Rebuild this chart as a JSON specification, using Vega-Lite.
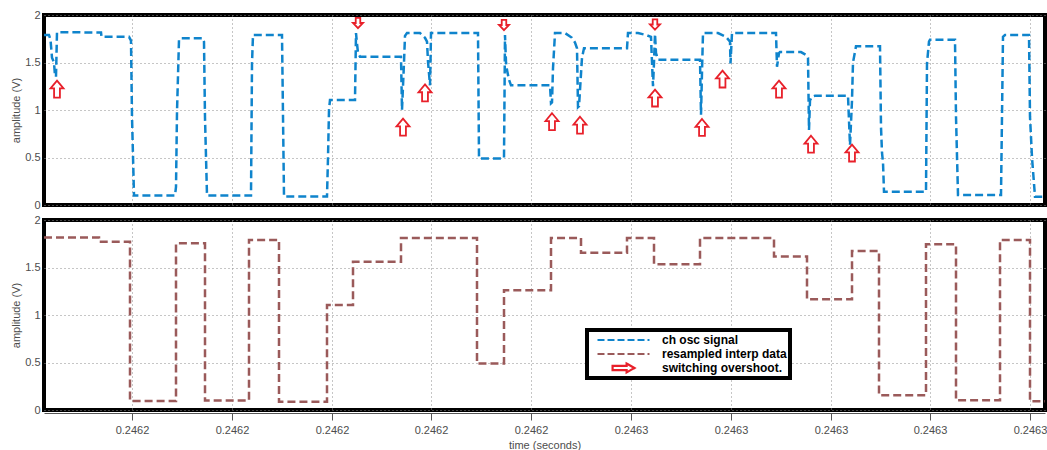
{
  "$schema": "https://vega.github.io/schema/vega-lite/v6.json",
  "background": "white",
  "padding": {"left": 8, "top": 7, "right": 0, "bottom": 0},
  "spacing": 0,
  "config": {
    "font": "Liberation Sans",
    "view": {"stroke": "black", "strokeWidth": 4},
    "axis": {
      "labelFont": "Liberation Sans", "labelFontSize": 11, "labelColor": "#4d4d4d",
      "titleFont": "Liberation Sans", "titleFontSize": 11, "titleFontWeight": "normal", "titleColor": "#4d4d4d",
      "gridColor": "#8c8c8c", "gridDash": [1, 3], "gridOpacity": 1, "gridWidth": 1
    }
  },
  "datasets": {
    "osc": [
      {"t": 0.2461962, "v": 1.79}, {"t": 0.2461967, "v": 1.79}, {"t": 0.24619685, "v": 1.74}, {"t": 0.246197, "v": 1.55},
      {"t": 0.2461972, "v": 1.5}, {"t": 0.2461973, "v": 1.36}, {"t": 0.2461974, "v": 1.35}, {"t": 0.2461975, "v": 1.82},
      {"t": 0.2462019, "v": 1.815}, {"t": 0.24620195, "v": 1.77}, {"t": 0.2462047, "v": 1.77}, {"t": 0.2462049, "v": 1.73},
      {"t": 0.246205, "v": 0.93}, {"t": 0.2462052, "v": 0.1}, {"t": 0.2462093, "v": 0.1}, {"t": 0.2462094, "v": 0.19},
      {"t": 0.2462095, "v": 0.98}, {"t": 0.2462097, "v": 1.74}, {"t": 0.2462098, "v": 1.755}, {"t": 0.2462121, "v": 1.755},
      {"t": 0.2462122, "v": 1.72}, {"t": 0.2462123, "v": 0.92}, {"t": 0.2462125, "v": 0.1}, {"t": 0.2462169, "v": 0.1},
      {"t": 0.246217, "v": 1.49}, {"t": 0.2462171, "v": 1.79}, {"t": 0.24622, "v": 1.79}, {"t": 0.2462201, "v": 0.94},
      {"t": 0.2462202, "v": 0.09}, {"t": 0.2462245, "v": 0.09}, {"t": 0.2462246, "v": 0.5}, {"t": 0.2462247, "v": 1.0},
      {"t": 0.2462248, "v": 1.105}, {"t": 0.2462273, "v": 1.105}, {"t": 0.2462274, "v": 1.81}, {"t": 0.2462275, "v": 1.7},
      {"t": 0.2462276, "v": 1.6}, {"t": 0.2462278, "v": 1.56}, {"t": 0.2462319, "v": 1.56}, {"t": 0.246232, "v": 1.0},
      {"t": 0.2462322, "v": 1.5}, {"t": 0.2462323, "v": 1.78}, {"t": 0.2462325, "v": 1.81}, {"t": 0.2462338, "v": 1.81},
      {"t": 0.2462343, "v": 1.76}, {"t": 0.2462345, "v": 1.72}, {"t": 0.2462346, "v": 1.51}, {"t": 0.2462348, "v": 1.26},
      {"t": 0.24623485, "v": 1.5}, {"t": 0.2462349, "v": 1.81}, {"t": 0.2462396, "v": 1.81}, {"t": 0.2462397, "v": 0.49},
      {"t": 0.2462422, "v": 0.49}, {"t": 0.2462423, "v": 1.79}, {"t": 0.2462424, "v": 1.5}, {"t": 0.2462425, "v": 1.42},
      {"t": 0.2462427, "v": 1.32}, {"t": 0.2462429, "v": 1.26}, {"t": 0.2462468, "v": 1.26}, {"t": 0.2462469, "v": 1.07},
      {"t": 0.246247, "v": 1.08}, {"t": 0.2462471, "v": 1.44}, {"t": 0.2462473, "v": 1.81}, {"t": 0.2462483, "v": 1.81},
      {"t": 0.246249, "v": 1.76}, {"t": 0.2462493, "v": 1.71}, {"t": 0.2462495, "v": 1.65}, {"t": 0.2462496, "v": 1.03},
      {"t": 0.2462497, "v": 1.04}, {"t": 0.24625, "v": 1.55}, {"t": 0.2462502, "v": 1.65}, {"t": 0.2462545, "v": 1.65},
      {"t": 0.2462546, "v": 1.81}, {"t": 0.2462556, "v": 1.81}, {"t": 0.2462564, "v": 1.79}, {"t": 0.2462569, "v": 1.77},
      {"t": 0.246257, "v": 1.5}, {"t": 0.2462571, "v": 1.25}, {"t": 0.2462572, "v": 1.5}, {"t": 0.2462573, "v": 1.8},
      {"t": 0.2462574, "v": 1.6}, {"t": 0.2462576, "v": 1.53}, {"t": 0.2462618, "v": 1.53}, {"t": 0.2462619, "v": 0.95},
      {"t": 0.246262, "v": 1.4}, {"t": 0.2462621, "v": 1.81}, {"t": 0.2462636, "v": 1.81}, {"t": 0.2462644, "v": 1.77},
      {"t": 0.2462648, "v": 1.72}, {"t": 0.24626485, "v": 1.49}, {"t": 0.246265, "v": 1.81}, {"t": 0.2462694, "v": 1.81},
      {"t": 0.2462695, "v": 1.455}, {"t": 0.2462697, "v": 1.6}, {"t": 0.2462698, "v": 1.61}, {"t": 0.2462719, "v": 1.61},
      {"t": 0.2462724, "v": 1.58}, {"t": 0.2462726, "v": 1.55}, {"t": 0.2462727, "v": 0.79}, {"t": 0.2462728, "v": 1.1},
      {"t": 0.246273, "v": 1.14}, {"t": 0.2462733, "v": 1.15}, {"t": 0.2462766, "v": 1.15}, {"t": 0.2462768, "v": 0.63},
      {"t": 0.246277, "v": 1.1}, {"t": 0.2462771, "v": 1.5}, {"t": 0.2462774, "v": 1.67}, {"t": 0.2462798, "v": 1.67},
      {"t": 0.2462799, "v": 0.82}, {"t": 0.24628, "v": 0.55}, {"t": 0.2462801, "v": 0.45}, {"t": 0.2462802, "v": 0.14},
      {"t": 0.2462844, "v": 0.14}, {"t": 0.2462845, "v": 1.49}, {"t": 0.2462847, "v": 1.72}, {"t": 0.2462848, "v": 1.74},
      {"t": 0.2462873, "v": 1.74}, {"t": 0.2462874, "v": 0.93}, {"t": 0.2462876, "v": 0.105}, {"t": 0.2462919, "v": 0.105},
      {"t": 0.2462921, "v": 1.77}, {"t": 0.2462923, "v": 1.79}, {"t": 0.2462947, "v": 1.79}, {"t": 0.2462948, "v": 0.93},
      {"t": 0.246295, "v": 0.5}, {"t": 0.2462953, "v": 0.087}, {"t": 0.2462963, "v": 0.087}
    ],
    "interp": [
      {"t": 0.2461962, "v": 1.815, "series": "resampled interp data"},
      {"t": 0.2462017, "v": 1.77, "series": "resampled interp data"},
      {"t": 0.2462048, "v": 0.095, "series": "resampled interp data"},
      {"t": 0.2462094, "v": 1.755, "series": "resampled interp data"},
      {"t": 0.2462123, "v": 0.1, "series": "resampled interp data"},
      {"t": 0.2462167, "v": 1.79, "series": "resampled interp data"},
      {"t": 0.2462197, "v": 0.088, "series": "resampled interp data"},
      {"t": 0.2462245, "v": 1.105, "series": "resampled interp data"},
      {"t": 0.2462271, "v": 1.56, "series": "resampled interp data"},
      {"t": 0.2462319, "v": 1.81, "series": "resampled interp data"},
      {"t": 0.2462395, "v": 0.49, "series": "resampled interp data"},
      {"t": 0.2462422, "v": 1.26, "series": "resampled interp data"},
      {"t": 0.2462469, "v": 1.81, "series": "resampled interp data"},
      {"t": 0.2462499, "v": 1.655, "series": "resampled interp data"},
      {"t": 0.2462545, "v": 1.81, "series": "resampled interp data"},
      {"t": 0.2462572, "v": 1.535, "series": "resampled interp data"},
      {"t": 0.2462618, "v": 1.81, "series": "resampled interp data"},
      {"t": 0.2462692, "v": 1.615, "series": "resampled interp data"},
      {"t": 0.2462725, "v": 1.165, "series": "resampled interp data"},
      {"t": 0.246277, "v": 1.675, "series": "resampled interp data"},
      {"t": 0.2462797, "v": 0.155, "series": "resampled interp data"},
      {"t": 0.2462844, "v": 1.745, "series": "resampled interp data"},
      {"t": 0.2462874, "v": 0.102, "series": "resampled interp data"},
      {"t": 0.2462918, "v": 1.79, "series": "resampled interp data"},
      {"t": 0.2462948, "v": 0.092, "series": "resampled interp data"},
      {"t": 0.2462963, "v": 0.092, "series": "resampled interp data"}
    ],
    "arrows": [
      {"t": 0.2461975, "v": 1.22, "dir": "up"},
      {"t": 0.2462321, "v": 0.82, "dir": "up"},
      {"t": 0.2462343, "v": 1.18, "dir": "up"},
      {"t": 0.246247, "v": 0.877, "dir": "up"},
      {"t": 0.2462498, "v": 0.84, "dir": "up"},
      {"t": 0.2462573, "v": 1.126, "dir": "up"},
      {"t": 0.246262, "v": 0.816, "dir": "up"},
      {"t": 0.24626405, "v": 1.326, "dir": "up"},
      {"t": 0.2462697, "v": 1.22, "dir": "up"},
      {"t": 0.2462729, "v": 0.64, "dir": "up"},
      {"t": 0.246277, "v": 0.547, "dir": "up"},
      {"t": 0.2462276, "v": 1.916, "dir": "down"},
      {"t": 0.2462422, "v": 1.895, "dir": "down"},
      {"t": 0.2462573, "v": 1.9, "dir": "down"}
    ]
  },
  "resolve": {"scale": {"color": "independent", "shape": "independent"}, "legend": {"color": "independent"}},
  "vconcat": [
    {
      "width": 1001,
      "height": 190,
      "layer": [
        {
          "data": {"name": "osc"},
          "mark": {"type": "line", "stroke": "#0f84cc", "strokeWidth": 2.5, "strokeDash": [8, 4]},
          "encoding": {
            "x": {"field": "t", "type": "quantitative",
              "scale": {"domain": [0.2461962, 0.2462963], "nice": false, "zero": false},
              "axis": {"title": null, "labels": false, "ticks": false, "domain": false, "grid": true,
                "values": [0.246205, 0.246215, 0.246225, 0.2462349, 0.2462449, 0.2462549, 0.2462649, 0.2462749, 0.2462848, 0.2462948]}},
            "y": {"field": "v", "type": "quantitative",
              "scale": {"domain": [0, 2], "nice": false},
              "axis": {"title": "amplitude (V)", "values": [0, 0.5, 1, 1.5, 2], "format": "~g", "ticks": false, "domain": false, "labelPadding": 4, "titlePadding": 3}}
          }
        },
        {
          "data": {"name": "arrows"},
          "mark": {"type": "point", "filled": true, "fill": "white", "stroke": "#e8202a", "strokeWidth": 1.8, "opacity": 1, "size": 169},
          "encoding": {
            "x": {"field": "t", "type": "quantitative"},
            "y": {"field": "v", "type": "quantitative"},
            "shape": {"field": "dir", "type": "nominal",
              "scale": {"domain": ["up", "down"], "range": ["M0,-1.3L1,-0.1L0.45,-0.1L0.45,1.3L-0.45,1.3L-0.45,-0.1L-1,-0.1Z", "M0,0.8L0.77,0L0.35,0L0.35,-0.8L-0.35,-0.8L-0.35,0L-0.77,0Z"]},
              "legend": null}
          }
        }
      ]
    },
    {
      "width": 1001,
      "height": 190,
      "data": {"name": "interp"},
      "mark": {"type": "line", "interpolate": "step-after", "strokeWidth": 2.5, "strokeDash": [8, 4]},
      "encoding": {
        "x": {"field": "t", "type": "quantitative",
          "scale": {"domain": [0.2461962, 0.2462963], "nice": false, "zero": false},
          "axis": {"title": "time (seconds)", "format": ".4f", "grid": true,
            "values": [0.246205, 0.246215, 0.246225, 0.2462349, 0.2462449, 0.2462549, 0.2462649, 0.2462749, 0.2462848, 0.2462948],
            "domain": true, "domainColor": "#555555", "ticks": true, "tickColor": "#555555", "tickSize": 7, "offset": 3, "labelPadding": 4, "titlePadding": 4}},
        "y": {"field": "v", "type": "quantitative",
          "scale": {"domain": [0, 2], "nice": false},
          "axis": {"title": "amplitude (V)", "values": [0, 0.5, 1, 1.5, 2], "format": "~g", "ticks": false, "domain": false, "labelPadding": 4, "titlePadding": 3}},
        "color": {"field": "series", "type": "nominal",
          "scale": {"domain": ["ch osc signal", "resampled interp data", "switching overshoot."], "range": ["#0f84cc", "#9a5a5a", "#e8202a"]},
          "legend": {
            "title": null, "orient": "none", "legendX": 543, "legendY": 110, "direction": "vertical",
            "symbolType": "stroke", "symbolSize": 2704, "symbolStrokeWidth": 2.2, "symbolDash": [7, 3], "symbolOffset": 6,
            "labelOffset": 11, "labelFont": "Liberation Sans", "labelFontSize": 12, "labelFontWeight": "bold", "labelColor": "black", "labelLimit": 300,
            "padding": 3, "rowPadding": 0, "clipHeight": 14, "strokeColor": "black", "fillColor": "white",
            "encode": {
              "legend": {"update": {"strokeWidth": {"value": 4}}},
              "symbols": {"update": {
                "shape": {"signal": "datum.value === 'switching overshoot.' ? 'M0.42,0L0.12,-0.17L0.12,-0.08L-0.42,-0.08L-0.42,0.08L0.12,0.08L0.12,0.17Z' : 'stroke'"},
                "fill": {"signal": "datum.value === 'switching overshoot.' ? 'white' : 'transparent'"},
                "strokeDash": {"signal": "datum.value === 'switching overshoot.' ? [1, 0] : [7, 3]"}
              }}
            }
          }}
      }
    }
  ]
}
